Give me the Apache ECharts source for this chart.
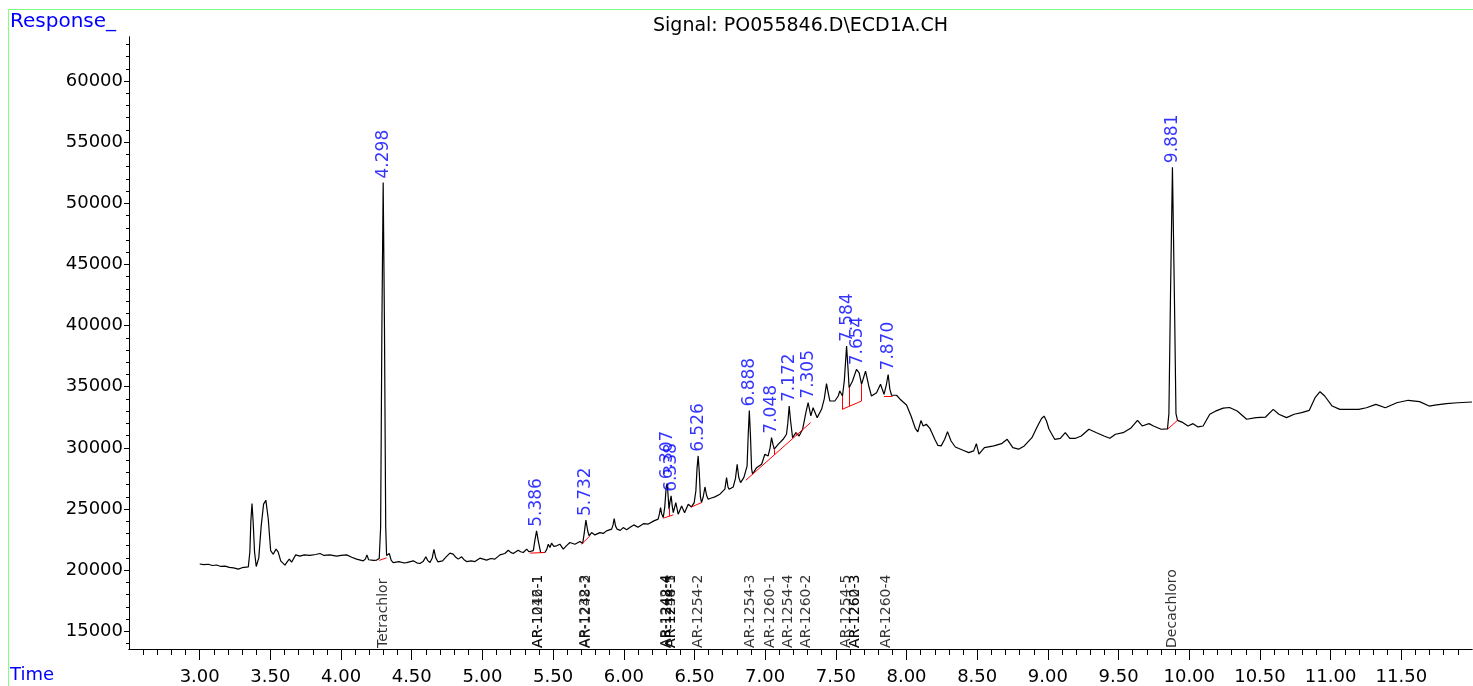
<!DOCTYPE html>
<html>
<head>
<meta charset="utf-8">
<script src="https://cdn.jsdelivr.net/npm/echarts@6/dist/echarts.min.js"></script>
<style>
  html, body { margin: 0; padding: 0; background: #fff; }
  #chart { width: 1473px; height: 686px; }
</style>
</head>
<body>
<div id="chart"></div>
<script>
// chromatogram trace, [time (min), response]
const trace = [
  [3.000, 20500], [3.030, 20450], [3.060, 20480], [3.090, 20380], [3.120, 20420], [3.150, 20300],
  [3.180, 20330], [3.210, 20220], [3.240, 20180], [3.273, 20080], [3.300, 20200], [3.344, 20270],
  [3.355, 21500], [3.362, 24000], [3.370, 25440], [3.378, 24000], [3.388, 21500], [3.400, 20300],
  [3.407, 20160], [3.418, 21000], [3.435, 23600], [3.452, 25400], [3.468, 25720], [3.485, 24200],
  [3.502, 21600], [3.520, 21300], [3.540, 21720], [3.555, 21500], [3.573, 20760], [3.603, 20410],
  [3.620, 20700], [3.634, 20900], [3.650, 20650], [3.679, 21250], [3.709, 21140], [3.740, 21250],
  [3.780, 21200], [3.820, 21280], [3.851, 21360], [3.880, 21200], [3.920, 21250], [3.969, 21140],
  [4.000, 21200], [4.040, 21250], [4.075, 21050], [4.110, 20900], [4.157, 20760], [4.172, 20900],
  [4.183, 21250], [4.195, 20850], [4.204, 20700], [4.230, 20800], [4.252, 20820], [4.270, 20950],
  [4.280, 23500], [4.289, 40000], [4.298, 51700], [4.307, 40000], [4.316, 23500], [4.322, 21200],
  [4.341, 21360], [4.355, 20800], [4.369, 20620], [4.410, 20700], [4.440, 20600], [4.464, 20620],
  [4.490, 20700], [4.511, 20760], [4.535, 20600], [4.558, 20540], [4.580, 20700], [4.600, 21090],
  [4.612, 20800], [4.629, 20620], [4.645, 21000], [4.657, 21690], [4.670, 21000], [4.685, 20680],
  [4.718, 20760], [4.745, 21100], [4.770, 21390], [4.793, 21310], [4.812, 21050], [4.829, 20900],
  [4.853, 21090], [4.870, 20850], [4.888, 20700], [4.920, 20750], [4.947, 20700], [4.982, 20980],
  [5.030, 20820], [5.060, 20950], [5.088, 20900], [5.124, 21250], [5.159, 21360], [5.183, 21630],
  [5.200, 21450], [5.218, 21360], [5.253, 21630], [5.270, 21500], [5.289, 21440], [5.313, 21720],
  [5.330, 21500], [5.343, 21360], [5.360, 21600], [5.372, 22500], [5.383, 23210], [5.395, 22400],
  [5.412, 21440], [5.442, 21440], [5.455, 21700], [5.466, 22120], [5.478, 21850], [5.489, 22200],
  [5.505, 21950], [5.525, 21990], [5.548, 22120], [5.572, 21720], [5.595, 22000], [5.619, 22260],
  [5.654, 22120], [5.690, 22340], [5.709, 22170], [5.720, 23000], [5.732, 24090], [5.745, 23200],
  [5.755, 22800], [5.772, 23070], [5.796, 22880], [5.831, 23070], [5.855, 23000], [5.878, 23210],
  [5.914, 23350], [5.924, 23700], [5.932, 24220], [5.942, 23600], [5.953, 23350], [5.975, 23250],
  [5.996, 23480], [6.020, 23300], [6.045, 23500], [6.071, 23700], [6.100, 23500], [6.142, 23810],
  [6.170, 23760], [6.213, 24030], [6.243, 24170], [6.252, 24600], [6.260, 25110], [6.268, 24600],
  [6.279, 24300], [6.290, 25200], [6.300, 26800], [6.307, 27100], [6.314, 26000], [6.320, 24980],
  [6.327, 25600], [6.335, 26070], [6.342, 25300], [6.350, 24700], [6.368, 25520], [6.385, 24570],
  [6.409, 25250], [6.430, 24700], [6.456, 25390], [6.479, 25170], [6.498, 25520], [6.510, 26500],
  [6.518, 28300], [6.526, 29340], [6.534, 28000], [6.542, 26000], [6.550, 25520], [6.562, 26000],
  [6.574, 26800], [6.586, 26100], [6.597, 25800], [6.620, 25900], [6.644, 25990], [6.680, 26210],
  [6.715, 26620], [6.727, 27570], [6.737, 26800], [6.745, 26620], [6.774, 26800], [6.790, 27500],
  [6.802, 28660], [6.813, 27600], [6.826, 27160], [6.849, 27570], [6.862, 27600], [6.872, 28500],
  [6.880, 31000], [6.888, 33050], [6.896, 31000], [6.904, 28300], [6.911, 27840], [6.939, 28380],
  [6.975, 28660], [6.998, 29480], [7.021, 29340], [7.035, 30000], [7.045, 30830], [7.055, 30300],
  [7.064, 29890], [7.092, 30290], [7.127, 30700], [7.151, 31110], [7.160, 32000], [7.170, 33420],
  [7.180, 32200], [7.194, 30830], [7.217, 31240], [7.240, 30970], [7.265, 31520], [7.288, 32880],
  [7.304, 33690], [7.323, 32610], [7.339, 33280], [7.368, 32470], [7.399, 33150], [7.418, 34000],
  [7.434, 35250], [7.446, 34500], [7.458, 33830], [7.493, 33830], [7.517, 34240], [7.528, 34650],
  [7.547, 34240], [7.560, 35500], [7.576, 38330], [7.586, 36500], [7.594, 34920], [7.618, 35470],
  [7.646, 36420], [7.665, 36140], [7.682, 35200], [7.710, 36280], [7.733, 35060], [7.752, 34240],
  [7.788, 34510], [7.816, 35200], [7.841, 34380], [7.858, 35200], [7.870, 36000], [7.882, 34800],
  [7.894, 34300], [7.929, 34300], [7.953, 34000], [7.976, 33750], [8.000, 33500], [8.032, 32610],
  [8.062, 31600], [8.080, 31300], [8.102, 32230], [8.118, 31790], [8.140, 31930], [8.165, 31600],
  [8.200, 30700], [8.222, 30200], [8.245, 30160], [8.270, 30700], [8.290, 31330], [8.315, 30560],
  [8.345, 30070], [8.400, 29800], [8.440, 29610], [8.475, 29750], [8.494, 30340], [8.512, 29480],
  [8.551, 30020], [8.618, 30160], [8.672, 30340], [8.712, 30700], [8.752, 30020], [8.793, 29890],
  [8.833, 30160], [8.887, 30830], [8.927, 31790], [8.955, 32400], [8.973, 32600], [8.990, 32200],
  [9.008, 31520], [9.048, 30700], [9.088, 30780], [9.123, 31240], [9.155, 30780], [9.196, 30780],
  [9.236, 30970], [9.290, 31520], [9.344, 31240], [9.397, 30970], [9.438, 30780], [9.478, 31110],
  [9.532, 31240], [9.585, 31600], [9.634, 32250], [9.667, 31790], [9.715, 31980], [9.747, 31790],
  [9.801, 31520], [9.846, 31550], [9.856, 32800], [9.867, 42300], [9.881, 52950], [9.895, 42300],
  [9.906, 32800], [9.917, 32250], [9.956, 32060], [9.991, 31790], [10.027, 31980], [10.062, 31710],
  [10.098, 31790], [10.145, 32750], [10.185, 33000], [10.240, 33250], [10.285, 33300], [10.339, 33010],
  [10.406, 32340], [10.473, 32470], [10.540, 32520], [10.594, 33150], [10.634, 32750], [10.688, 32470],
  [10.742, 32750], [10.795, 32880], [10.849, 33070], [10.890, 34100], [10.925, 34590], [10.958, 34240],
  [11.011, 33420], [11.065, 33150], [11.119, 33150], [11.199, 33150], [11.253, 33280], [11.320, 33560],
  [11.387, 33280], [11.468, 33690], [11.549, 33890], [11.629, 33780], [11.697, 33420], [11.737, 33500],
  [11.818, 33610], [11.898, 33690], [12.000, 33750]
];

// integrated peaks: retention time label, apex response
const peakTimes = [4.298, 5.386, 5.732, 6.307, 6.338, 6.526, 6.888, 7.048, 7.172, 7.305, 7.584, 7.654, 7.870, 9.881];
const peakApex = [51700, 23210, 24090, 27100, 26070, 29340, 33050, 30830, 33420, 33690, 38330, 36420, 36000, 52950];

// compound names along the time axis
const compoundNames = [
  'Tetrachlor', 'AR-1016-1', 'AR-1242-1', 'AR-1232-3', 'AR-1248-2',
  'AR-1242-4', 'AR-1248-4', 'AR-1248-5', 'AR-1254-1', 'AR-1254-2',
  'AR-1254-3', 'AR-1260-1', 'AR-1254-4', 'AR-1260-2', 'AR-1254-5',
  'AR-1260-3', 'AR-1262-3', 'AR-1260-4', 'Decachloro'
];
const compoundTimes = [
  4.298, 5.393, 5.395, 5.731, 5.733,
  6.304, 6.306, 6.337, 6.339, 6.530,
  6.895, 7.040, 7.165, 7.294, 7.577,
  7.637, 7.639, 7.860, 9.878
];

// integration baselines: [t1, r1, t2, r2]
const baselines = [
  [4.270, 20800, 4.322, 21000],
  [5.336, 21390, 5.442, 21440],
  [5.701, 22120, 5.760, 22800],
  [6.279, 24250, 6.350, 24520],
  [6.321, 24410, 6.321, 25000],
  [6.479, 25170, 6.550, 25520],
  [6.863, 27350, 7.321, 32060],
  [7.064, 29417, 7.064, 29890],
  [7.217, 30990, 7.217, 31240],
  [7.545, 33150, 7.682, 33830],
  [7.545, 33150, 7.545, 34240],
  [7.594, 33400, 7.594, 34920],
  [7.682, 33830, 7.682, 35200],
  [7.841, 34180, 7.901, 34180],
  [9.846, 31520, 9.917, 32250]
];

const xLabels = [3.0, 3.5, 4.0, 4.5, 5.0, 5.5, 6.0, 6.5, 7.0, 7.5, 8.0, 8.5, 9.0, 9.5, 10.0, 10.5, 11.0, 11.5];
const yLabels = [15000, 20000, 25000, 30000, 35000, 40000, 45000, 50000, 55000, 60000];

const xMinor = [];
for (let i = 26; i <= 119; i++) xMinor.push(i / 10);
const yMinor = [];
for (let v = 14000; v <= 63000; v += 1000) yMinor.push(v);

const X_MIN = 2.5, X_MAX = 12.0, Y_MIN = 13550, Y_MAX = 63600;
const FONT = 'DejaVu Sans';
const BLUE = '#0000ff';

const chart = echarts.init(document.getElementById('chart'));

const axisBase = { lineStyle: { color: '#000', width: 1 } };

chart.setOption({
  animation: false,
  backgroundColor: '#fff',
  title: {
    text: 'Signal: PO055846.D\\ECD1A.CH',
    left: 648,
    top: 12,
    textStyle: { fontFamily: FONT, fontSize: 19, fontWeight: 'normal', color: '#000' }
  },
  graphic: [
    { type: 'line', shape: { x1: 8, y1: 9.5, x2: 1473, y2: 9.5 }, style: { stroke: '#80ff80', lineWidth: 1 } },
    { type: 'line', shape: { x1: 8.5, y1: 9, x2: 8.5, y2: 686 }, style: { stroke: '#80ff80', lineWidth: 1 } },
    { type: 'text', left: 10, top: 12, style: { text: 'Response_', fill: BLUE, font: '20px "DejaVu Sans"' } },
    { type: 'text', left: 10, top: 666, style: { text: 'Time', fill: BLUE, font: '18px "DejaVu Sans"' } }
  ],
  grid: { left: 129, right: 1, top: 37, bottom: 37, containLabel: false, outerBoundsMode: 'none' },
  xAxis: [
    {
      type: 'value', min: X_MIN, max: X_MAX, position: 'bottom',
      axisLine: { show: true, ...axisBase },
      axisTick: { show: true, length: 11, customValues: xLabels, ...axisBase },
      axisLabel: {
        customValues: xLabels, margin: 19, color: '#000', fontFamily: FONT, fontSize: 18,
        formatter: v => v.toFixed(2)
      },
      splitLine: { show: false }
    },
    {
      type: 'value', min: X_MIN, max: X_MAX, position: 'bottom', offset: 0,
      axisLine: { show: true, ...axisBase },
      axisTick: { show: true, length: 6, customValues: xMinor, ...axisBase },
      axisLabel: { show: false },
      splitLine: { show: false }
    }
  ],
  yAxis: [
    {
      type: 'value', min: Y_MIN, max: Y_MAX, position: 'left',
      axisLine: { show: true, ...axisBase },
      axisTick: { show: true, length: 5, customValues: yLabels, ...axisBase },
      axisLabel: {
        customValues: yLabels, margin: 6, color: '#000', fontFamily: FONT, fontSize: 18,
        formatter: v => String(v)
      },
      splitLine: { show: false }
    },
    {
      type: 'value', min: Y_MIN, max: Y_MAX, position: 'left', offset: 0,
      axisLine: { show: true, ...axisBase },
      axisTick: { show: true, length: 3, customValues: yMinor, ...axisBase },
      axisLabel: { show: false },
      splitLine: { show: false }
    }
  ],
  series: [
    {
      type: 'line',
      data: trace,
      showSymbol: false,
      symbol: 'none',
      lineStyle: { color: '#000', width: 1.2 },
      z: 2
    },
    {
      type: 'lines',
      coordinateSystem: 'cartesian2d',
      data: baselines.map(b => ({ coords: [[b[0], b[1]], [b[2], b[3]]] })),
      lineStyle: { color: '#ff0000', width: 1, opacity: 1 },
      z: 3
    },
    {
      type: 'scatter',
      data: peakTimes.map((t, i) => ({ value: [t, peakApex[i]], name: t.toFixed(3) })),
      symbolSize: 0.1,
      itemStyle: { color: 'rgba(0,0,0,0)' },
      label: {
        show: true, position: 'top', distance: 4, rotate: 90, align: 'left', verticalAlign: 'middle',
        formatter: p => p.name, color: BLUE, fontFamily: FONT, fontSize: 17
      },
      z: 4
    },
    {
      type: 'scatter',
      clip: false,
      data: compoundTimes.map((t, i) => ({ value: [t, Y_MIN], name: compoundNames[i] })),
      symbolSize: 0.1,
      itemStyle: { color: 'rgba(0,0,0,0)' },
      label: {
        show: true, position: 'top', distance: 1, rotate: 90, align: 'left', verticalAlign: 'middle',
        formatter: p => p.name, color: '#000', fontFamily: FONT, fontSize: 14
      },
      z: 4
    }
  ]
});
</script>
</body>
</html>
